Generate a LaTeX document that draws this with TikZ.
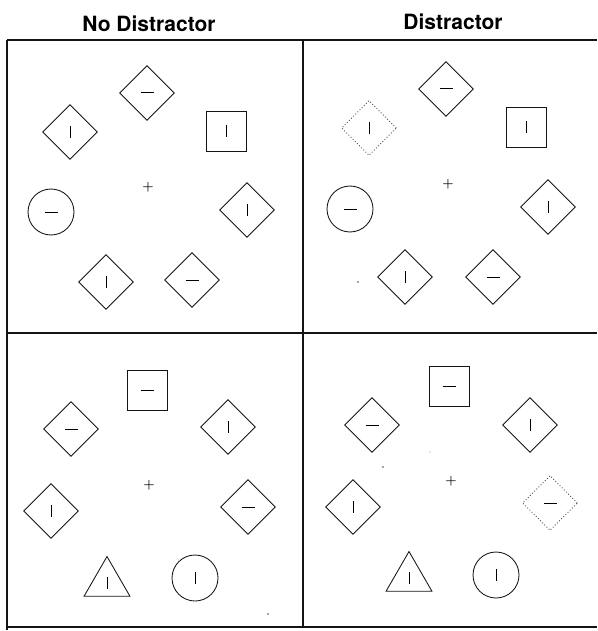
\documentclass[tikz,border=0pt]{standalone}
\usepackage{fontspec}
\newfontfamily\heros{TeX Gyre Heros}
\usetikzlibrary{shapes.geometric}
\definecolor{trazo}{RGB}{20,20,20}
\definecolor{punto}{RGB}{70,70,70}
\newcommand{\vstroke}{\rule{1pt}{12pt}}
\newcommand{\hstroke}{\rule{13pt}{1pt}}
\tikzset{
  item/.style={draw=trazo, line width=0.85pt, inner sep=0pt},
  rombo/.style={item, diamond, minimum width=55pt, minimum height=55pt},
  cuadro/.style={item, rectangle, minimum size=40pt},
  circulo/.style={item, circle, minimum size=46pt},
  triangulo/.style={item, regular polygon, regular polygon sides=3, minimum size=53pt},
  punteado/.style={rombo, draw=punto, dash pattern=on 0.9pt off 2.1pt},
  titulo/.style={font=\heros\bfseries\fontsize{21}{25}\selectfont, anchor=base},
  fijacion/.style={font=\bfseries\fontsize{13}{13}\selectfont, inner sep=0pt},
  marco/.style={line width=1.2pt, draw=trazo},
}
\begin{document}
\begin{tikzpicture}[x=1pt, y=-1pt]
\useasboundingbox (0,0) rectangle (597,631);
% marco
\draw[marco] (7,40) -- (597,40);
\draw[marco] (7,40) -- (7,630);
\draw[marco] (303,40) -- (303,628);
\draw[marco] (7,333) -- (597,333);
\draw[marco] (7,627) -- (597,627);
\node[titulo] (tituloA) at (149,32) {No Distractor};
\node[titulo] (tituloB) at (453,30) {Distractor};

% arriba, sin distractor
\node[fijacion] (fixA) at (148,187) {+};
\node[rombo] (a1) at (147,93) {\hstroke};
\node[rombo] (a2) at (70,132) {\vstroke};
\node[cuadro] (a3) at (226,131) {\vstroke};
\node[circulo] (a4) at (51,212) {\hstroke};
\node[rombo] (a5) at (247,210) {\vstroke};
\node[rombo] (a6) at (106,282) {\vstroke};
\node[rombo] (a7) at (192,280) {\hstroke};

% arriba, con distractor
\node[fijacion] (fixB) at (448,184) {+};
\node[rombo] (b1) at (446,89) {\hstroke};
\node[punteado] (b2) at (369,128) {\vstroke};
\node[cuadro] (b3) at (526,127) {\vstroke};
\node[circulo] (b4) at (350,209) {\hstroke};
\node[rombo] (b5) at (548,207) {\vstroke};
\node[rombo] (b6) at (405,277) {\vstroke};
\node[rombo] (b7) at (493,277) {\hstroke};
\fill[punto] (358,282) circle (0.9);

% abajo, sin distractor
\node[fijacion] (fixC) at (149,485) {+};
\node[cuadro] (c1) at (147,390) {\hstroke};
\node[rombo] (c2) at (71,429) {\hstroke};
\node[rombo] (c3) at (228,427) {\vstroke};
\node[rombo] (c4) at (51,511) {\vstroke};
\node[rombo] (c5) at (248,507) {\hstroke};
\node[triangulo] (c6) at (107,583) {\vstroke};
\node[circulo] (c7) at (195,578) {\vstroke};
\fill[punto] (268,614) circle (0.9);

% abajo, con distractor
\node[fijacion] (fixD) at (451,481) {+};
\node[cuadro] (d1) at (449,386) {\hstroke};
\node[rombo] (d2) at (372,425) {\hstroke};
\node[rombo] (d3) at (530,425) {\vstroke};
\node[rombo] (d4) at (353,507) {\vstroke};
\node[punteado] (d5) at (550,503) {\hstroke};
\node[triangulo] (d6) at (409,578) {\vstroke};
\node[circulo] (d7) at (496,575) {\vstroke};
\fill[punto] (383,467) circle (0.9);
\fill[punto!60] (430,452) circle (0.7);
\end{tikzpicture}
\end{document}
